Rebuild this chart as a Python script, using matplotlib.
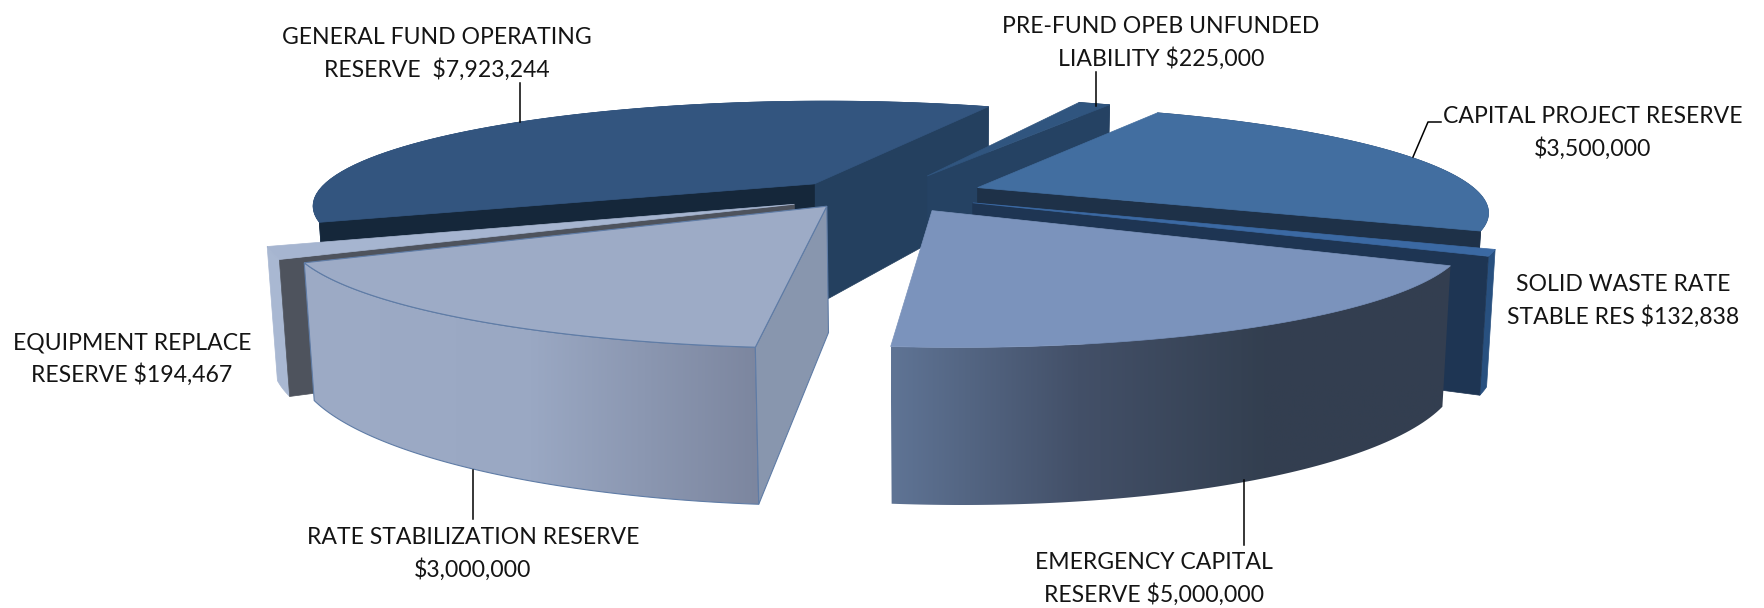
import numpy as np
import matplotlib
matplotlib.use("Agg")
import matplotlib.pyplot as plt
from matplotlib.colors import LinearSegmentedColormap
from matplotlib.patches import Polygon

plt.rcParams['font.family'] = ['Lato', 'DejaVu Sans']

# reserve balances, clockwise round the pie
names = ["capital", "solid_waste", "emergency", "rate", "equipment", "general", "opeb"]
values = [3500000, 132838, 5000000, 3000000, 194467, 7923244, 225000]
label_lines = [
    ("CAPITAL PROJECT RESERVE", "{}"),
    ("SOLID WASTE RATE", "STABLE RES {}"),
    ("EMERGENCY CAPITAL", "RESERVE {}"),
    ("RATE STABILIZATION RESERVE", "{}"),
    ("EQUIPMENT REPLACE", "RESERVE {}"),
    ("GENERAL FUND OPERATING", "RESERVE  {}"),
    ("PRE-FUND OPEB UNFUNDED", "LIABILITY {}"),
]

# perspective camera: (x, y, z, 1) on the unit pie -> pixels
camera = np.array([
    [270.06286, -432.63301, -12.97347, 683.0714],
    [37.61333, 49.52615, -124.99191, 182.85815],
    [-0.12957, -0.14681, -0.01374, 1.0],
])
start_angle = 0.06423
angle_warp = [-0.01239, -0.31924, 0.04143, 0.05926]

# explode offset and radius of each slice
explode = {
    "capital": (0.49652, -0.3372, 0.98696),
    "solid_waste": (0.57579, -0.2126, 0.99266),
    "emergency": (0.55768, -0.10484, 0.99141),
    "rate": (0.37389, -0.00872, 1.03821),
    "equipment": (0.31287, 0.01712, 1.02326),
    "general": (0.21637, -0.15979, 1.00611),
    "opeb": (0.34595, -0.36787, 0.98042),
}

# face colours; a list for the side means a left to right gradient,
# only the cut walls that face the viewer are listed
faces = {
    "general": dict(top="#33557f", side="#33557f", start="#15273a", end="#24405f"),
    "opeb": dict(top="#30557f", side="#254263", end="#254263"),
    "capital": dict(top="#426ea0", side="#2b4a70", end="#1e3148"),
    "solid_waste": dict(top="#3b69a3", side="#28507f", end="#1e3553"),
    "equipment": dict(top="#a6b5d0", side="#a9b8d2", start="#4e535d"),
    "rate": dict(top="#9dabc6", side=["#9dabc6", "#9aa8c3", "#7c869f"],
                 start="#8896ae", outline="#5f7ca6"),
    "emergency": dict(top="#7b93bc", side=["#5f7495", "#435068", "#333f50", "#333e50"]),
}
draw_order = ["general", "opeb", "capital", "solid_waste", "equipment", "rate", "emergency"]

label_pos = {
    "general": (437, 54), "opeb": (1161, 43), "capital": (1593, 133), "solid_waste": (1623, 301),
    "emergency": (1154, 579), "rate": (473, 554), "equipment": (132, 359),
}
leaders = [
    ([520, 520], [83, 122]),
    ([1096, 1096], [72, 106]),
    ([1413, 1428, 1441], [157, 122, 122]),
    ([473, 473], [470, 519]),
    ([1244, 1244], [480, 545]),
]


def project(x, y, z):
    pts = np.stack([x, y, np.full_like(x, z, dtype=float), np.ones_like(x)])
    u = camera @ pts
    return np.c_[u[0] / u[2], u[1] / u[2]]


def warp(t):
    w = angle_warp
    return t + w[0] * np.sin(2 * t) + w[1] * np.cos(2 * t) + w[2] * np.sin(3 * t) + w[3] * np.cos(3 * t)


def draw_slice(ax, name, a0, a1, z):
    ox, oy, rad = explode[name]
    style = faces[name]
    outline = style.get("outline")
    t = warp(np.linspace(a0, a1, 120))
    rx = ox + rad * np.sin(t)
    ry = oy - rad * np.cos(t)
    apex = (np.array([ox]), np.array([oy]))

    def face(points, color, order):
        edge = outline if outline else color
        lw = 0.8 if outline else 0.5
        patch = Polygon(points, closed=True, facecolor=color, edgecolor=edge, lw=lw, zorder=order)
        ax.add_patch(patch)
        return patch

    # rim first, then the walls and the lid on top of it
    rim = np.vstack([project(rx, ry, 0), project(rx, ry, -1)[::-1]])
    if isinstance(style["side"], list):
        cmap = LinearSegmentedColormap.from_list(name, style["side"])
        grad = np.linspace(0, 1, 256)[None, :]
        extent = (rim[:, 0].min(), rim[:, 0].max(), rim[:, 1].max(), rim[:, 1].min())
        clip = Polygon(rim, closed=True, fill=False, edgecolor=outline or "none", lw=0.8, zorder=z + 1)
        ax.add_patch(clip)
        img = ax.imshow(grad, cmap=cmap, extent=extent, aspect="auto", zorder=z)
        img.set_clip_path(clip)
    else:
        face(rim, style["side"], z)

    for key, i in (("end", -1), ("start", 0)):
        if key not in style:
            continue
        tip = (np.array([rx[i]]), np.array([ry[i]]))
        wall = np.vstack([project(*apex, 0), project(*tip, 0), project(*tip, -1), project(*apex, -1)])
        face(wall, style[key], z + 2)

    lid = np.vstack([project(*apex, 0), project(rx, ry, 0)])
    face(lid, style["top"], z + 3)


fig = plt.figure(figsize=(17.65, 6.08), dpi=100)
ax = fig.add_axes([0, 0, 1, 1])

sweeps = 2 * np.pi * np.array(values) / sum(values)
edges = start_angle + np.concatenate([[0], np.cumsum(sweeps)])

for k, name in enumerate(draw_order):
    i = names.index(name)
    draw_slice(ax, name, edges[i], edges[i + 1], 2 + 4 * k)

for xs, ys in leaders:
    ax.plot(xs, ys, color="black", lw=1.1, zorder=50)

for name, value, lines in zip(names, values, label_lines):
    text = "\n".join(lines).format("${:,}".format(value))
    x, y = label_pos[name]
    ax.text(x, y, text, ha="center", va="center", fontsize=16.6, linespacing=1.52,
            color="#141414", zorder=60)

ax.set_xlim(0, 1765)
ax.set_ylim(608, 0)
ax.axis("off")
fig.savefig("out.png", dpi=100, facecolor="white")
